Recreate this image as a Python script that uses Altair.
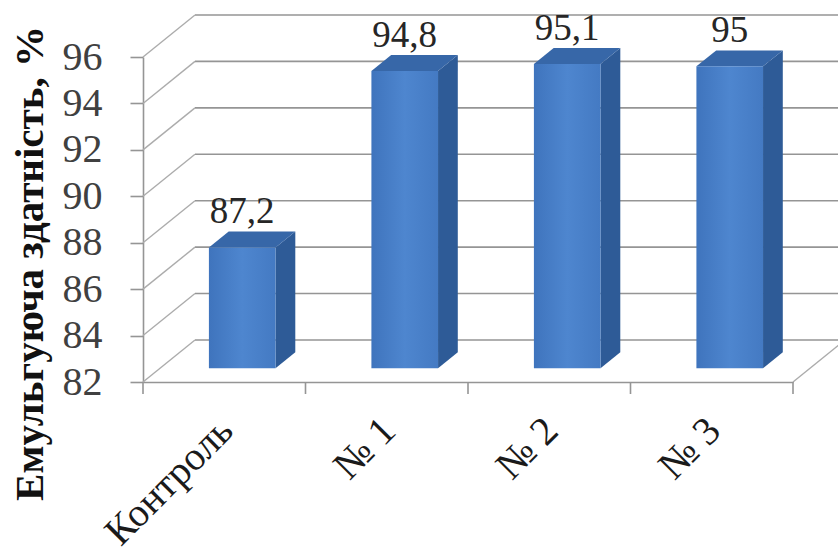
import json
import altair as alt
import pandas as pd

# ---- data ----
categories = ["Контроль", "№ 1", "№ 2", "№ 3"]
values = [87.2, 94.8, 95.1, 95.0]
value_labels = ["87,2", "94,8", "95,1", "95"]
y_ticks = [82, 84, 86, 88, 90, 92, 94, 96]
y_min, y_max = 82, 96

# ---- pseudo-3D geometry (in scale units) ----
DEPTH_X = 0.32      # wall depth along x (category units)
DEPTH_Y = 1.81      # wall depth along y (value units)
BAR_LEFT, BAR_RIGHT = 0.30, 0.71
BAR_FRONT = 0.33    # depth fraction at which bar front sits
BAR_DEPTH = 0.38    # bar depth as fraction of wall depth

n = len(categories)
fx, fy = BAR_FRONT * DEPTH_X, BAR_FRONT * DEPTH_Y
bdx, bdy = BAR_DEPTH * DEPTH_X, BAR_DEPTH * DEPTH_Y

front_rows, side_rows, top_rows, label_rows = [], [], [], []
for i, (c, v, lab) in enumerate(zip(categories, values, value_labels)):
    xl = i + BAR_LEFT + fx
    xr = i + BAR_RIGHT + fx
    base = y_min + fy
    top = v + fy
    front_rows.append(dict(bar=c, x=xl, x2=xr, y=base, y2=top))
    side_rows += [dict(bar=c, x=xr, y=base, y2=top),
                  dict(bar=c, x=xr + bdx, y=base + bdy, y2=top + bdy)]
    top_rows += [dict(bar=c, x=xl, y=top, y2=top),
                 dict(bar=c, x=xl + bdx, y=top, y2=top + bdy),
                 dict(bar=c, x=xr, y=top, y2=top + bdy),
                 dict(bar=c, x=xr + bdx, y=top + bdy, y2=top + bdy)]
    label_rows.append(dict(bar=c, x=(xl + xr) / 2, y=top + bdy, label=lab))

front_df = pd.DataFrame(front_rows)
side_df = pd.DataFrame(side_rows)
top_df = pd.DataFrame(top_rows)
label_df = pd.DataFrame(label_rows)

back_df = pd.DataFrame(dict(x=[DEPTH_X] * len(y_ticks), x2=[n + DEPTH_X] * len(y_ticks),
                            y=[t + DEPTH_Y for t in y_ticks]))
diag_df = pd.DataFrame(dict(x=[0] * len(y_ticks), x2=[DEPTH_X] * len(y_ticks),
                            y=y_ticks, y2=[t + DEPTH_Y for t in y_ticks]))
floor_df = pd.DataFrame(dict(x=[n], x2=[n + DEPTH_X], y=[y_min], y2=[y_min + DEPTH_Y]))
xtick_df = pd.DataFrame(dict(x=list(range(n + 1))))

xs = alt.Scale(domain=[0, n], nice=False, zero=False)
ys = alt.Scale(domain=[y_min, y_max], nice=False, zero=False)
FONT = "Times New Roman, Liberation Serif, serif"
GRID = "#959595"

label_expr = "%s[floor(datum.value)]" % json.dumps(categories, ensure_ascii=False)

X_AXIS = alt.Axis(values=[i + 0.5 for i in range(n)], labelExpr=label_expr,
                  title=None, ticks=False, grid=False, domainColor=GRID,
                  domainWidth=1.6, labelAngle=315, labelAlign="right",
                  labelBaseline="middle", labelPadding=42, labelOffset=2,
                  labelFont=FONT, labelFontSize=40, labelColor="#1a1a1a")
Y_AXIS = alt.Axis(values=y_ticks, title="Емульгуюча здатність, %",
                  titleFont=FONT, titleFontSize=41, titleFontWeight="bold",
                  titleColor="#111111", titleX=-113, titleY=206,
                  titleAlign="center", titleBaseline="middle", titleAngle=270,
                  grid=False, tickSize=13, tickColor=GRID, tickWidth=1.6,
                  domainColor=GRID, domainWidth=1.6, labelPadding=28,
                  labelFont=FONT, labelFontSize=40, labelColor="#404040")


def X(f):
    return alt.X(f, scale=xs, axis=X_AXIS)


def Y(f):
    return alt.Y(f, scale=ys, axis=Y_AXIS)


back = alt.Chart(back_df).mark_rule(color=GRID, strokeWidth=1.6).encode(
    x=X("x:Q"), x2="x2:Q", y=Y("y:Q"))

diag = alt.Chart(diag_df).mark_rule(color="#acacac", strokeWidth=1.4).encode(
    x=X("x:Q"), x2="x2:Q", y=Y("y:Q"), y2="y2:Q")

floor = alt.Chart(floor_df).mark_rule(color="#acacac", strokeWidth=1.4).encode(
    x=X("x:Q"), x2="x2:Q", y=Y("y:Q"), y2="y2:Q")

xticks = alt.Chart(xtick_df).mark_rule(color=GRID, strokeWidth=1.6).encode(
    x=X("x:Q"), y=alt.value(325), y2=alt.value(337))

side = alt.Chart(side_df).mark_area(color="#2e5b97", interpolate="linear").encode(
    x=X("x:Q"), y=Y("y:Q"), y2="y2:Q", detail="bar:N")

topf = alt.Chart(top_df).mark_area(color="#3767a8", interpolate="linear").encode(
    x=X("x:Q"), y=Y("y:Q"), y2="y2:Q", detail="bar:N")

grad = alt.LinearGradient(
    gradient="linear", x1=0, x2=1, y1=0, y2=0,
    stops=[alt.GradientStop(color="#3f74bd", offset=0),
           alt.GradientStop(color="#4e86cf", offset=0.5),
           alt.GradientStop(color="#447ac3", offset=1)])

front = alt.Chart(front_df).mark_rect(fill=grad).encode(
    x=X("x:Q"), x2="x2:Q", y=Y("y:Q"), y2="y2:Q")

labels = alt.Chart(label_df).mark_text(font=FONT, fontSize=37, color="#262626",
                                       baseline="alphabetic", dy=-8).encode(
    x=X("x:Q"), y=Y("y:Q"), text="label:N")

chart = alt.layer(back, diag, floor, xticks, side, topf, front, labels).properties(
    width=650, height=325,
    autosize=alt.AutoSizeParams(type="none"),
    padding={"left": 143, "top": 57, "right": 45, "bottom": 176},
    background="white",
).configure_view(stroke=None)

chart.save("out.html", embed_options={"renderer": "svg", "actions": False})
